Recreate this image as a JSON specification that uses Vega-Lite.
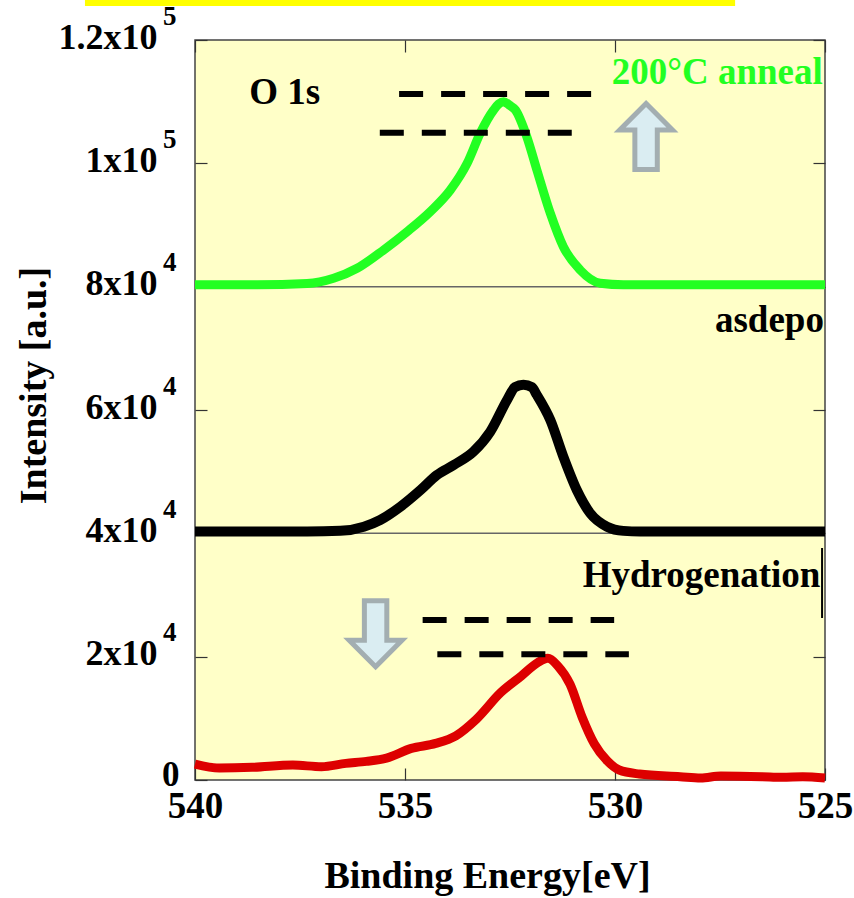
{
  "$schema": "https://vega.github.io/schema/vega-lite/v6.json",
  "width": 630,
  "height": 740,
  "autosize": {"type": "none"},
  "padding": {"left": 195, "top": 40, "right": 29, "bottom": 118},
  "background": "white",
  "config": {
    "font": "Liberation Serif",
    "view": {"fill": "#FFFFC8", "stroke": "#444444", "strokeWidth": 1.5},
    "axis": {
      "grid": false,
      "domain": false,
      "labelFont": "Liberation Serif",
      "labelFontWeight": "bold",
      "labelColor": "black",
      "titleFont": "Liberation Serif",
      "titleFontWeight": "bold",
      "titleColor": "black",
      "tickColor": "#333333",
      "tickWidth": 1.2,
      "labelOverlap": false,
      "labelFlush": false
    }
  },
  "datasets": {
    "green": [
      {"e": 540, "v": 80300}, {"e": 538.52, "v": 80300}, {"e": 537.33, "v": 80500},
      {"e": 536.7, "v": 81355}, {"e": 536.14, "v": 82977}, {"e": 535.51, "v": 85945},
      {"e": 534.95, "v": 88915}, {"e": 534.4, "v": 92157}, {"e": 533.92, "v": 95674},
      {"e": 533.52, "v": 100004}, {"e": 533.21, "v": 104866}, {"e": 532.89, "v": 108647},
      {"e": 532.77, "v": 109620}, {"e": 532.65, "v": 110000}, {"e": 532.52, "v": 109458},
      {"e": 532.37, "v": 108647}, {"e": 532.1, "v": 104317}, {"e": 531.86, "v": 98918},
      {"e": 531.54, "v": 91895}, {"e": 531.23, "v": 86480}, {"e": 530.83, "v": 82702},
      {"e": 530.35, "v": 80545}, {"e": 529.8, "v": 80300}, {"e": 525, "v": 80300}
    ],
    "black": [
      {"e": 540, "v": 40300}, {"e": 537.33, "v": 40300}, {"e": 536.54, "v": 40400},
      {"e": 535.98, "v": 41075}, {"e": 535.59, "v": 42162}, {"e": 535.11, "v": 44320},
      {"e": 534.63, "v": 47026}, {"e": 534.24, "v": 49459}, {"e": 533.84, "v": 51080},
      {"e": 533.37, "v": 53238}, {"e": 532.97, "v": 56480}, {"e": 532.57, "v": 61620},
      {"e": 532.38, "v": 63700}, {"e": 532.18, "v": 64100}, {"e": 531.98, "v": 63700},
      {"e": 531.86, "v": 62432}, {"e": 531.54, "v": 58378}, {"e": 531.23, "v": 52427},
      {"e": 530.91, "v": 47026}, {"e": 530.59, "v": 43248}, {"e": 530.19, "v": 41075},
      {"e": 529.8, "v": 40400}, {"e": 529.4, "v": 40300}, {"e": 525, "v": 40300}
    ],
    "red": [
      {"e": 540, "v": 2588}, {"e": 539.42, "v": 1941}, {"e": 538.64, "v": 2048},
      {"e": 537.67, "v": 2426}, {"e": 536.99, "v": 2156}, {"e": 536.41, "v": 2695},
      {"e": 535.92, "v": 3019}, {"e": 535.44, "v": 3558}, {"e": 534.85, "v": 5121},
      {"e": 534.27, "v": 5930}, {"e": 533.79, "v": 7170}, {"e": 533.3, "v": 9865},
      {"e": 532.72, "v": 14178}, {"e": 532.23, "v": 16873}, {"e": 531.84, "v": 19030},
      {"e": 531.6, "v": 19730}, {"e": 531.36, "v": 18490}, {"e": 531.07, "v": 15526},
      {"e": 530.78, "v": 10135}, {"e": 530.49, "v": 5822}, {"e": 530.19, "v": 3127},
      {"e": 529.9, "v": 1617}, {"e": 529.42, "v": 970}, {"e": 528.45, "v": 539},
      {"e": 527.96, "v": 323}, {"e": 527.48, "v": 647}, {"e": 526.5, "v": 539},
      {"e": 526.02, "v": 431}, {"e": 525.53, "v": 539}, {"e": 525, "v": 323}
    ],
    "dashes": [
      {"g": "a", "e": 535.14, "v": 111242}, {"g": "a", "e": 530.55, "v": 111242},
      {"g": "b", "e": 535.6, "v": 104966}, {"g": "b", "e": 531.03, "v": 104966},
      {"g": "c", "e": 534.58, "v": 25946}, {"g": "c", "e": 530.02, "v": 25946},
      {"g": "d", "e": 534.23, "v": 20383}, {"g": "d", "e": 529.67, "v": 20383}
    ],
    "baselines": [{"v": 40000}, {"v": 80000}],
    "bar": [{"e": 542.62, "e2": 527.14, "v": 126486, "v2": 125514}],
    "up": [{"e": 529.26, "v": 104350}],
    "down": [{"e": 535.7, "v": 23724}],
    "edge": [{"e": 525.07, "v": 37621, "v2": 26270}],
    "labels": [
      {"t": "O 1s", "e": 538.71, "v": 109620},
      {"t": "200°C anneal", "e": 530.08, "v": 112815},
      {"t": "asdepo", "e": 527.62, "v": 72697},
      {"t": "Hydrogenation", "e": 530.77, "v": 31346}
    ]
  },
  "layer": [
    {
      "data": {"name": "baselines"},
      "mark": {"type": "rule", "color": "#666666", "strokeWidth": 1.5},
      "encoding": {
        "y": {"field": "v", "type": "quantitative", "scale": {"domain": [0, 120000], "nice": false}, "axis": null}
      }
    },
    {
      "data": {"name": "bar"},
      "mark": {"type": "rect", "color": "#FFFF00", "clip": false},
      "encoding": {
        "x": {"field": "e", "type": "quantitative", "scale": {"domain": [525, 540], "reverse": true, "nice": false, "zero": false}, "axis": null},
        "x2": {"field": "e2"},
        "y": {"field": "v", "type": "quantitative", "scale": {"domain": [0, 120000], "nice": false}, "axis": null},
        "y2": {"field": "v2"}
      }
    },
    {
      "data": {"name": "green"},
      "mark": {"type": "line", "color": "#22FF22", "strokeWidth": 9, "strokeJoin": "round", "interpolate": "monotone", "clip": false},
      "encoding": {
        "x": {
          "field": "e", "type": "quantitative",
          "scale": {"domain": [525, 540], "reverse": true, "nice": false, "zero": false},
          "axis": {
            "orient": "bottom", "values": [540, 535, 530, 525], "format": "d",
            "tickSize": -12, "labelPadding": 20, "labelFontSize": 37,
            "title": "Binding Energy[eV]", "titleFontSize": 38,
            "titleX": 292, "titleY": 107, "titleBaseline": "alphabetic", "titleAlign": "center"
          }
        },
        "y": {
          "field": "v", "type": "quantitative",
          "scale": {"domain": [0, 120000], "nice": false},
          "axis": {
            "orient": "left", "values": [0, 20000, 40000, 60000, 80000, 100000, 120000],
            "tickSize": -12, "labelPadding": 50, "labelFontSize": 36, "labelOffset": -3,
            "labelExpr": "datum.value == 0 ? '' : (datum.value == 120000 ? '1.2x10' : (datum.value == 100000 ? '1x10' : format(datum.value / 10000, 'd') + 'x10'))",
            "title": "Intensity [a.u.]", "titleFontSize": 38,
            "titleX": -150, "titleY": 345, "titleAngle": 270, "titleBaseline": "alphabetic", "titleAlign": "center"
          }
        }
      }
    },
    {
      "data": {"name": "black"},
      "mark": {"type": "line", "color": "#000000", "strokeWidth": 10, "strokeJoin": "round", "interpolate": "monotone", "clip": false},
      "encoding": {
        "x": {"field": "e", "type": "quantitative", "scale": {"domain": [525, 540], "reverse": true, "nice": false, "zero": false}, "axis": null},
        "y": {"field": "v", "type": "quantitative", "scale": {"domain": [0, 120000], "nice": false}, "axis": null}
      }
    },
    {
      "data": {"name": "red"},
      "mark": {"type": "line", "color": "#DD0000", "strokeWidth": 9, "strokeJoin": "round", "interpolate": "monotone", "clip": false},
      "encoding": {
        "x": {"field": "e", "type": "quantitative", "scale": {"domain": [525, 540], "reverse": true, "nice": false, "zero": false}, "axis": null},
        "y": {"field": "v", "type": "quantitative", "scale": {"domain": [0, 120000], "nice": false}, "axis": null}
      }
    },
    {
      "data": {"name": "dashes"},
      "mark": {"type": "line", "color": "#000000", "strokeWidth": 6, "strokeDash": [24, 18], "strokeCap": "butt"},
      "encoding": {
        "x": {
          "field": "e", "type": "quantitative",
          "scale": {"domain": [525, 540], "reverse": true, "nice": false, "zero": false},
          "axis": {"orient": "top", "values": [540, 535, 530, 525], "tickSize": -12, "labels": false, "title": null}
        },
        "y": {
          "field": "v", "type": "quantitative",
          "scale": {"domain": [0, 120000], "nice": false},
          "axis": {"orient": "right", "values": [0, 20000, 40000, 60000, 80000, 100000, 120000], "tickSize": -12, "labels": false, "title": null}
        },
        "detail": {"field": "g", "type": "nominal"}
      }
    },
    {
      "data": {"name": "up"},
      "mark": {
        "type": "point", "filled": true, "fill": "#DAEDF2", "stroke": "#A3AEB1", "strokeWidth": 5, "opacity": 1,
        "size": 4356,
        "shape": "M 0 -1 L 0.8 -0.2 L 0.34 -0.2 L 0.34 1 L -0.34 1 L -0.34 -0.2 L -0.8 -0.2 Z"
      },
      "encoding": {
        "x": {"field": "e", "type": "quantitative", "scale": {"domain": [525, 540], "reverse": true, "nice": false, "zero": false}, "axis": null},
        "y": {"field": "v", "type": "quantitative", "scale": {"domain": [0, 120000], "nice": false}, "axis": null}
      }
    },
    {
      "data": {"name": "down"},
      "mark": {
        "type": "point", "filled": true, "fill": "#DAEDF2", "stroke": "#A3AEB1", "strokeWidth": 5, "opacity": 1,
        "size": 4356,
        "shape": "M 0 1 L 0.8 0.2 L 0.34 0.2 L 0.34 -1 L -0.34 -1 L -0.34 0.2 L -0.8 0.2 Z"
      },
      "encoding": {
        "x": {"field": "e", "type": "quantitative", "scale": {"domain": [525, 540], "reverse": true, "nice": false, "zero": false}, "axis": null},
        "y": {"field": "v", "type": "quantitative", "scale": {"domain": [0, 120000], "nice": false}, "axis": null}
      }
    },
    {
      "data": {"name": "edge"},
      "mark": {"type": "rule", "color": "#000000", "strokeWidth": 2},
      "encoding": {
        "x": {"field": "e", "type": "quantitative", "scale": {"domain": [525, 540], "reverse": true, "nice": false, "zero": false}, "axis": null},
        "y": {"field": "v", "type": "quantitative", "scale": {"domain": [0, 120000], "nice": false}, "axis": null},
        "y2": {"field": "v2"}
      }
    },
    {
      "data": {"name": "labels"},
      "mark": {"type": "text", "align": "left", "baseline": "alphabetic", "font": "Liberation Serif", "fontWeight": "bold", "fontSize": 37, "clip": false},
      "encoding": {
        "x": {"field": "e", "type": "quantitative", "scale": {"domain": [525, 540], "reverse": true, "nice": false, "zero": false}, "axis": null},
        "y": {
          "field": "v", "type": "quantitative",
          "scale": {"domain": [0, 120000], "nice": false},
          "axis": {
            "orient": "left", "values": [0, 20000, 40000, 60000, 80000, 100000, 120000],
            "ticks": false,
            "labelPadding": {"condition": {"test": "datum.value == 0", "value": 16}, "value": 19},
            "labelFontSize": {"condition": {"test": "datum.value == 0", "value": 35}, "value": 27},
            "labelOffset": {"condition": {"test": "datum.value == 0", "value": -6}, "value": -24},
            "labelExpr": "datum.value == 0 ? '0' : (datum.value >= 100000 ? '5' : '4')",
            "title": null
          }
        },
        "text": {"field": "t", "type": "nominal"},
        "color": {
          "field": "t", "type": "nominal",
          "scale": {"domain": ["O 1s", "200°C anneal", "asdepo", "Hydrogenation"], "range": ["#000000", "#22FF22", "#000000", "#000000"]},
          "legend": null
        }
      }
    }
  ],
  "resolve": {"axis": {"x": "independent", "y": "independent"}}
}
